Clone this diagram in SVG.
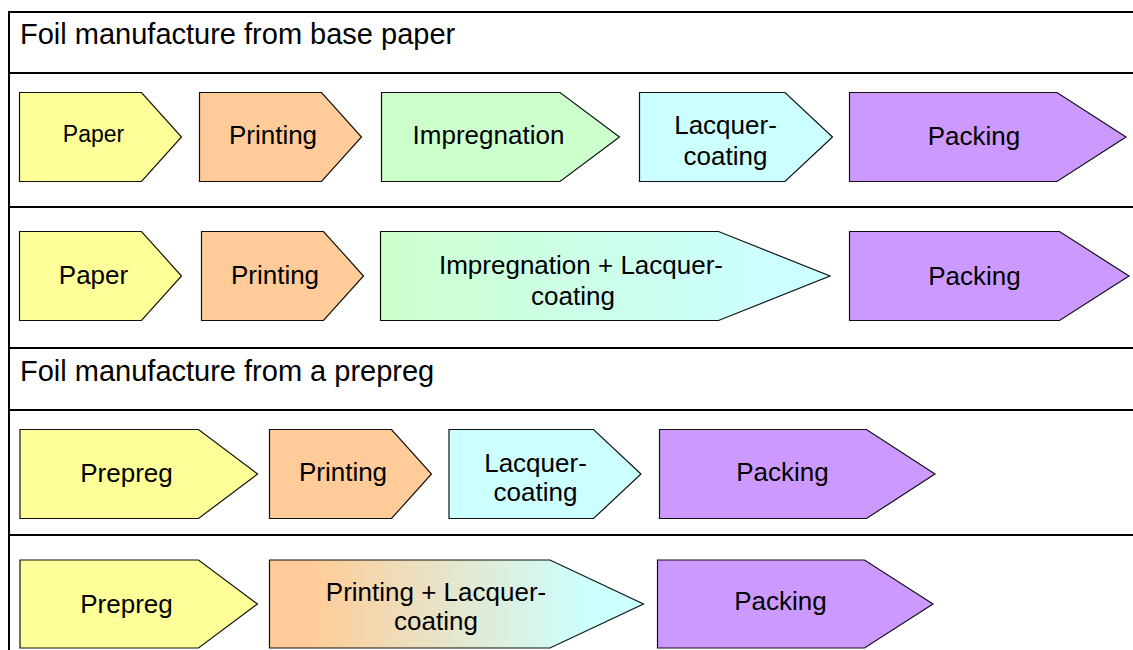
<svg xmlns="http://www.w3.org/2000/svg" width="1133" height="650" viewBox="0 0 1133 650">
<style>
.frame{stroke:#000;stroke-width:2;fill:none}
.step{stroke:#111;stroke-width:1.2;stroke-linejoin:miter}
.t{font-family:"Liberation Sans",Arial,Helvetica,sans-serif;font-size:26px;fill:#000;text-anchor:middle}
.title{font-family:"Liberation Sans",Arial,Helvetica,sans-serif;font-size:29px;fill:#000}
.paper{fill:#FFFF99}
.print{fill:#FFCC99}
.impreg{fill:#CCFFCC}
.lacq{fill:#CCFFFF}
.pack{fill:#CC99FF}
</style>
<defs>
<linearGradient id="gImpLac" x1="0" y1="0" x2="1" y2="0">
<stop offset="0" stop-color="#CCFFCC"/>
<stop offset="0.85" stop-color="#CCFFFF"/>
<stop offset="1" stop-color="#CCFFFF"/>
</linearGradient>
<linearGradient id="gPrtLac" x1="0" y1="0" x2="1" y2="0">
<stop offset="0" stop-color="#FFCC99"/>
<stop offset="0.12" stop-color="#FFCC99"/>
<stop offset="0.85" stop-color="#CCFFFF"/>
<stop offset="1" stop-color="#CCFFFF"/>
</linearGradient>
</defs>
<rect width="1133" height="650" fill="#fff"/>
<g id="frame">
<line class="frame" x1="9" y1="12" x2="1133" y2="12"/>
<line class="frame" x1="9" y1="11" x2="9" y2="650"/>
<line class="frame" x1="9" y1="73" x2="1133" y2="73"/>
<line class="frame" x1="9" y1="207" x2="1133" y2="207"/>
<line class="frame" x1="9" y1="348" x2="1133" y2="348"/>
<line class="frame" x1="9" y1="410" x2="1133" y2="410"/>
<line class="frame" x1="9" y1="535" x2="1133" y2="535"/>
</g>
<g id="title1"><text class="title" x="20" y="43.5">Foil manufacture from base paper</text></g>
<g id="title2"><text class="title" x="20" y="381">Foil manufacture from a prepreg</text></g>
<g id="connectors"></g>
<!-- Row 1 -->
<g id="r1-paper"><polygon class="step paper" points="19.5,92.5 141.5,92.5 181.5,137 141.5,181.5 19.5,181.5"/><text class="t" x="93.5" y="141.5" style="font-size:23px">Paper</text></g>
<g id="r1-printing"><polygon class="step print" points="199.5,92.5 321.5,92.5 361.5,137 321.5,181.5 199.5,181.5"/><text class="t" x="273" y="144">Printing</text></g>
<g id="r1-impregnation"><polygon class="step impreg" points="381.5,92.5 560,92.5 619.5,137 560,181.5 381.5,181.5"/><text class="t" x="488.5" y="144">Impregnation</text></g>
<g id="r1-lacquer"><polygon class="step lacq" points="639.5,92.5 785,92.5 832.5,137 785,181.5 639.5,181.5"/><text class="t" x="725.5" y="134">Lacquer-</text><text class="t" x="725.5" y="165">coating</text></g>
<g id="r1-packing"><polygon class="step pack" points="849.5,92.5 1057,92.5 1126,137 1057,181.5 849.5,181.5"/><text class="t" x="974" y="145">Packing</text></g>
<!-- Row 2 -->
<g id="r2-paper"><polygon class="step paper" points="19.5,231.5 141.5,231.5 181.5,276 141.5,320.5 19.5,320.5"/><text class="t" x="93.5" y="283.5">Paper</text></g>
<g id="r2-printing"><polygon class="step print" points="201.5,231.5 323.5,231.5 363.5,276 323.5,320.5 201.5,320.5"/><text class="t" x="275" y="283.5">Printing</text></g>
<g id="r2-impreg-lacquer"><polygon class="step" fill="url(#gImpLac)" points="380.5,231.5 718.5,231.5 830,276 718.5,320.5 380.5,320.5"/><text class="t" x="581" y="273.5">Impregnation + Lacquer-</text><text class="t" x="573" y="304.5">coating</text></g>
<g id="r2-packing"><polygon class="step pack" points="849.5,231.5 1059.5,231.5 1129,276 1059.5,320.5 849.5,320.5"/><text class="t" x="974.5" y="285">Packing</text></g>
<!-- Row 3 -->
<g id="r3-prepreg"><polygon class="step paper" points="20,429.5 198.5,429.5 257.5,474 198.5,518.5 20,518.5"/><text class="t" x="126.5" y="481.5">Prepreg</text></g>
<g id="r3-printing"><polygon class="step print" points="269.5,429.5 391.5,429.5 431.5,474 391.5,518.5 269.5,518.5"/><text class="t" x="343" y="481">Printing</text></g>
<g id="r3-lacquer"><polygon class="step lacq" points="449,429.5 593.5,429.5 641,474 593.5,518.5 449,518.5"/><text class="t" x="535.5" y="471.5">Lacquer-</text><text class="t" x="535.5" y="501">coating</text></g>
<g id="r3-packing"><polygon class="step pack" points="659.5,429.5 866.5,429.5 935,474 866.5,518.5 659.5,518.5"/><text class="t" x="782.5" y="481">Packing</text></g>
<!-- Row 4 -->
<g id="r4-prepreg"><polygon class="step paper" points="20,560 198.5,560 257.5,604 198.5,648 20,648"/><text class="t" x="126.5" y="613">Prepreg</text></g>
<g id="r4-printing-lacquer"><polygon class="step" fill="url(#gPrtLac)" points="269.5,560 550,560 643.5,604 550,648 269.5,648"/><text class="t" x="436" y="601">Printing + Lacquer-</text><text class="t" x="436" y="630">coating</text></g>
<g id="r4-packing"><polygon class="step pack" points="657.5,560 864.5,560 933,604 864.5,648 657.5,648"/><text class="t" x="780.5" y="610">Packing</text></g>
</svg>
